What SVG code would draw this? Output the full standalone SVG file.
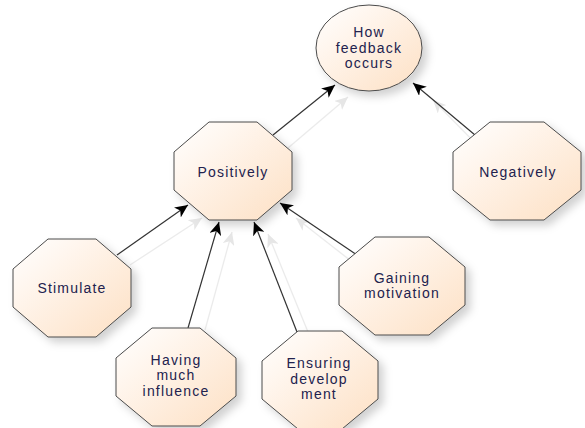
<svg xmlns="http://www.w3.org/2000/svg" width="585" height="428" viewBox="0 0 585 428">
<style>
.node{fill:url(#peach);stroke:#4a4a4a;stroke-width:1;filter:url(#sh)}
.lbl{font-family:"Liberation Sans",Arial,sans-serif;font-size:14px;letter-spacing:1.2px;fill:#22224e;text-anchor:middle}
.edge{stroke:#333;stroke-width:1.2;fill:none;marker-end:url(#arr)}
.ghost{stroke:#ebebeb;stroke-width:1.3;fill:none;marker-end:url(#garr)}
</style>
<defs>
<linearGradient id="peach" x1="0" y1="0" x2="1" y2="1">
<stop offset="0" stop-color="#ffffff"/>
<stop offset="0.3" stop-color="#fff6ee"/>
<stop offset="1" stop-color="#fde0c4"/>
</linearGradient>
<filter id="sh" x="-20%" y="-20%" width="150%" height="150%">
<feDropShadow dx="5" dy="5" stdDeviation="4" flood-color="#000" flood-opacity="0.18"/>
</filter>
<marker id="arr" markerWidth="14" markerHeight="12" refX="13" refY="6" orient="auto" markerUnits="userSpaceOnUse">
<path d="M0,0 L13,6 L0,12 L3.5,6 z" fill="#000"/>
</marker>
<marker id="garr" markerWidth="14" markerHeight="12" refX="13" refY="6" orient="auto" markerUnits="userSpaceOnUse">
<path d="M0,0 L13,6 L0,12 L3.5,6 z" fill="#e6e6e6"/>
</marker>
</defs>
<rect width="585" height="428" fill="#fff"/>
<g id="connectors">
<line class="ghost" x1="288" y1="148" x2="348" y2="97"/>
<line class="ghost" x1="482" y1="150" x2="433" y2="100"/>
<line class="ghost" x1="130" y1="265" x2="202" y2="218"/>
<line class="ghost" x1="205" y1="330" x2="232" y2="232"/>
<line class="ghost" x1="308" y1="332" x2="268" y2="234"/>
<line class="ghost" x1="360" y1="268" x2="296" y2="218"/>
<line class="edge" x1="273" y1="135" x2="335" y2="85"/>
<line class="edge" x1="475" y1="135" x2="413" y2="83"/>
<line class="edge" x1="117" y1="255" x2="188" y2="205"/>
<line class="edge" x1="188" y1="328" x2="219" y2="222"/>
<line class="edge" x1="297" y1="332" x2="254" y2="222"/>
<line class="edge" x1="357" y1="255" x2="280" y2="203"/>
</g>
<g id="how">
<ellipse class="node" cx="369" cy="48" rx="53" ry="43"/>
<text class="lbl" x="369" y="37">How</text>
<text class="lbl" x="369" y="53">feedback</text>
<text class="lbl" x="369" y="68">occurs</text>
</g>
<g id="positively">
<polygon class="node" points="209,122 257,122 292,152 292,190 257,220 209,220 174,190 174,152"/>
<text class="lbl" x="233" y="177">Positively</text>
</g>
<g id="negatively">
<polygon class="node" points="490,122 544,122 581,152 581,190 544,220 490,220 453,190 453,152"/>
<text class="lbl" x="518" y="177">Negatively</text>
</g>
<g id="stimulate">
<polygon class="node" points="48,239 96,239 131,269 131,307 96,337 48,337 13,307 13,269"/>
<text class="lbl" x="72" y="293">Stimulate</text>
</g>
<g id="having">
<polygon class="node" points="152,328 200,328 236,358 236,396 200,426 152,426 116,396 116,358"/>
<text class="lbl" x="176" y="365">Having</text>
<text class="lbl" x="176" y="380">much</text>
<text class="lbl" x="176" y="396">influence</text>
</g>
<g id="ensuring">
<polygon class="node" points="298,331 342,331 378,361 378,399 342,429 298,429 262,399 262,361"/>
<text class="lbl" x="319" y="368">Ensuring</text>
<text class="lbl" x="319" y="384">develop</text>
<text class="lbl" x="319" y="399">ment</text>
</g>
<g id="gaining">
<polygon class="node" points="375,237 429,237 465,267 465,305 429,335 375,335 339,305 339,267"/>
<text class="lbl" x="402" y="283">Gaining</text>
<text class="lbl" x="402" y="298">motivation</text>
</g>
</svg>
